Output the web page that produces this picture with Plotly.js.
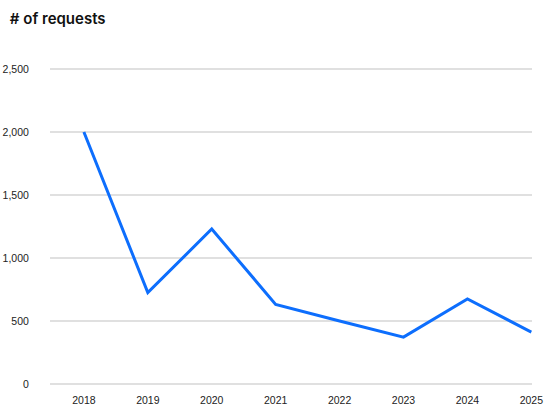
<!DOCTYPE html>
<html>
<head>
<meta charset="utf-8">
<script src="https://cdn.plot.ly/plotly-3.0.1.min.js"></script>
<style>html,body{margin:0;padding:0;background:#fff}#chart{width:547px;height:409px}</style>
</head>
<body>
<div id="chart"></div>
<script>
const years = [2018, 2019, 2020, 2021, 2022, 2023, 2024, 2025];
const requests = [2000, 725, 1230, 632, 500, 372, 675, 412];
const yTicks = [0, 500, 1000, 1500, 2000, 2500];
const yTickLabels = ["0", "500", "1,000", "1,500", "2,000", "2,500"];

const trace = {
  x: years,
  y: requests,
  type: 'scatter',
  mode: 'lines',
  line: {color: '#0d6efd', width: 3},
  hoverinfo: 'x+y'
};

const layout = {
  width: 547,
  height: 409,
  margin: {l: 50, r: 15, t: 68, b: 24},
  paper_bgcolor: '#fff',
  plot_bgcolor: '#fff',
  showlegend: false,
  title: {
    text: '# of requests',
    x: 0.018, xanchor: 'left',
    y: 0.955, yanchor: 'middle',
    font: {family: 'Inter, "Open Sans", sans-serif', size: 15, color: '#111', weight: 600}
  },
  xaxis: {
    range: [2017.47, 2025.01],
    tickmode: 'array',
    tickvals: years,
    ticktext: years.map(String),
    showgrid: false,
    zeroline: false,
    showline: false,
    ticks: 'outside', ticklen: 5, tickcolor: 'rgba(0,0,0,0)',
    tickfont: {family: '"Liberation Sans", Arial, sans-serif', size: 10.5, color: '#222'},
    fixedrange: true
  },
  yaxis: {
    range: [-8, 2508],
    tickmode: 'array',
    tickvals: yTicks,
    ticktext: yTickLabels,
    showgrid: true,
    gridcolor: '#e0e0e0',
    gridwidth: 1.5,
    zeroline: false,
    showline: false,
    ticks: 'outside', ticklen: 18, tickcolor: 'rgba(0,0,0,0)',
    tickfont: {family: '"Liberation Sans", Arial, sans-serif', size: 10.5, color: '#222'},
    fixedrange: true
  }
};

Plotly.newPlot('chart', [trace], layout, {displayModeBar: false, staticPlot: true});
</script>
</body>
</html>
